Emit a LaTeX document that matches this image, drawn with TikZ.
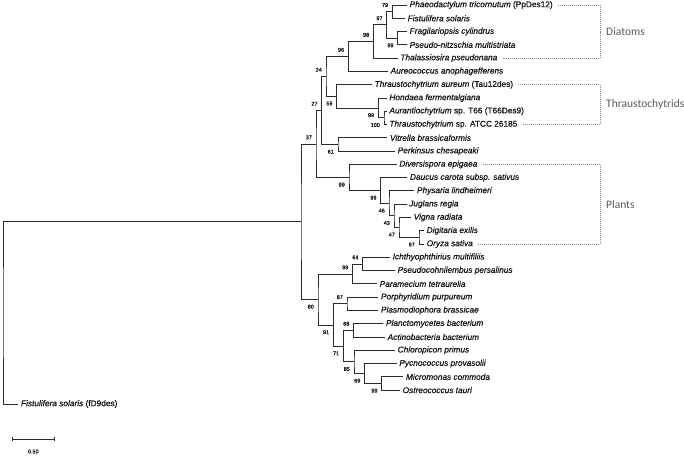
\documentclass[tikz,border=0pt]{standalone}
\usepackage{fontspec}
\setmainfont{Liberation Sans}
\newfontfamily\taxonfont{Liberation Sans}[FakeBold=0.35]
\newfontfamily\groupfont{Carlito}
\usetikzlibrary{arrows.meta,positioning}
\definecolor{Branch}{HTML}{2B2B2B}
\definecolor{Taxon}{HTML}{111111}
\definecolor{Group}{HTML}{5A5A5A}
\definecolor{Guide}{HTML}{8A8A8A}

\begin{document}
\begin{tikzpicture}[x=1pt,y=-1pt,
  branch/.style={draw=Branch,line width=1pt},
  taxon/.style={anchor=west,inner sep=1pt,xshift=1.5pt,text=Taxon,font=\taxonfont\fontsize{8.3}{9}\selectfont\itshape},
  bsup/.style={anchor=south east,inner sep=0pt,xshift=-4pt,yshift=4.5pt,text=Taxon,font=\taxonfont\fontsize{5.5}{6}\selectfont},
  bsdn/.style={anchor=north east,inner sep=0pt,xshift=-4pt,yshift=-5pt,text=Taxon,font=\taxonfont\fontsize{5.5}{6}\selectfont},
  guide/.style={draw=Guide,line width=0.7pt,dash pattern=on 0.8pt off 1.2pt},
  group/.style={right=6pt,inner sep=0pt,text=Group,font=\groupfont\fontsize{11.5}{13}\selectfont}]
\useasboundingbox (0,0) rectangle (684,456);
% leaf tips
\coordinate (l0) at (407,5.0);
\coordinate (l1) at (405,18.3);
\coordinate (l2) at (407,31.6);
\coordinate (l3) at (407,44.8);
\coordinate (l4) at (397.7,58.1);
\coordinate (l5) at (388,71.4);
\coordinate (l6) at (372,84.7);
\coordinate (l7) at (386.7,98.0);
\coordinate (l8) at (386.7,111.2);
\coordinate (l9) at (386.7,124.5);
\coordinate (l10) at (387.3,137.8);
\coordinate (l11) at (395,151.1);
\coordinate (l12) at (396.7,164.4);
\coordinate (l13) at (407.3,177.6);
\coordinate (l14) at (414.3,190.9);
\coordinate (l15) at (406.5,204.2);
\coordinate (l16) at (411,217.5);
\coordinate (l17) at (424,230.8);
\coordinate (l18) at (424,244.0);
\coordinate (l19) at (390,257.3);
\coordinate (l20) at (395,270.6);
\coordinate (l21) at (377,283.9);
\coordinate (l22) at (378.3,297.2);
\coordinate (l23) at (378.3,310.4);
\coordinate (l24) at (383.3,323.7);
\coordinate (l25) at (385,337.0);
\coordinate (l26) at (395,350.3);
\coordinate (l27) at (396.7,363.6);
\coordinate (l28) at (403.3,376.8);
\coordinate (l29) at (400,390.1);
\coordinate (lfd) at (18.3,404);
% inner nodes
\coordinate (n79) at (392.3,11.7);
\coordinate (n99a) at (397.7,38.2);
\coordinate (n97) at (386.7,24.9);
\coordinate (n98) at (373.3,41.5);
\coordinate (n96) at (348.3,56.5);
\coordinate (n100) at (384,117.9);
\coordinate (n99b) at (378.3,108);
\coordinate (n59) at (336.7,96.3);
\coordinate (n24) at (326,76.4);
\coordinate (n61) at (338,144.5);
\coordinate (n27) at (321.7,110.4);
\coordinate (n97p) at (419,237.4);
\coordinate (n47) at (399,227.5);
\coordinate (n43) at (394,215.8);
\coordinate (n46) at (389,203.4);
\coordinate (n99d) at (380.7,190.5);
\coordinate (n99c) at (349,177.5);
\coordinate (n37) at (316,144);
\coordinate (n64) at (362.7,264);
\coordinate (n99e) at (352.5,274);
\coordinate (n87) at (347,303.8);
\coordinate (n68) at (353.5,330.4);
\coordinate (n99f) at (381.7,383.5);
\coordinate (n69) at (364.5,373.5);
\coordinate (n85) at (354,361.9);
\coordinate (n71) at (343.3,346.2);
\coordinate (n91) at (333.3,325);
\coordinate (n80) at (318,299.5);
\coordinate (nA) at (301,221.8);
\coordinate (root) at (3,312.9);
% branches
\draw[branch] (l0) -| (n79) |- (l1);
\draw[branch] (l2) -| (n99a) |- (l3);
\draw[branch] (n79) -| (n97) |- (n99a);
\draw[branch] (n97) -| (n98) |- (l4);
\draw[branch] (n98) -| (n96) |- (l5);
\draw[branch] (l8) -| (n100) |- (l9);
\draw[branch] (l7) -| (n99b) |- (n100);
\draw[branch] (l6) -| (n59) |- (n99b);
\draw[branch] (n96) -| (n24) |- (n59);
\draw[branch] (l10) -| (n61) |- (l11);
\draw[branch] (n24) -| (n27) |- (n61);
\draw[branch] (l17) -| (n97p) |- (l18);
\draw[branch] (l16) -| (n47) |- (n97p);
\draw[branch] (l15) -| (n43) |- (n47);
\draw[branch] (l14) -| (n46) |- (n43);
\draw[branch] (l13) -| (n99d) |- (n46);
\draw[branch] (l12) -| (n99c) |- (n99d);
\draw[branch] (n27) -| (n37) |- (n99c);
\draw[branch] (l19) -| (n64) |- (l20);
\draw[branch] (n64) -| (n99e) |- (l21);
\draw[branch] (l22) -| (n87) |- (l23);
\draw[branch] (l24) -| (n68) |- (l25);
\draw[branch] (l28) -| (n99f) |- (l29);
\draw[branch] (l27) -| (n69) |- (n99f);
\draw[branch] (l26) -| (n85) |- (n69);
\draw[branch] (n68) -| (n71) |- (n85);
\draw[branch] (n87) -| (n91) |- (n71);
\draw[branch] (n99e) -| (n80) |- (n91);
\draw[branch] (n37) -| (nA) |- (n80);
\draw[branch] (nA) -| (root) |- (lfd);
% bootstrap values
\node[bsup] (b79) at (n79) {79};
\node[bsdn] (b99a) at (n99a) {99};
\node[bsup] (b97) at (n97) {97};
\node[bsup] (b98) at (n98) {98};
\node[bsup] (b96) at (n96) {96};
\node[bsdn] (b100) at (n100) {100};
\node[bsdn] (b99b) at (n99b) {99};
\node[bsdn] (b59) at (n59) {59};
\node[bsup] (b24) at (n24) {24};
\node[bsdn] (b61) at (n61) {61};
\node[bsup] (b27) at (n27) {27};
\node[bsdn] (b97p) at (n97p) {97};
\node[bsdn] (b47) at (n47) {47};
\node[bsdn] (b43) at (n43) {43};
\node[bsdn] (b46) at (n46) {46};
\node[bsdn] (b99d) at (n99d) {99};
\node[bsdn] (b99c) at (n99c) {99};
\node[bsup] (b37) at (n37) {37};
\node[bsup] (b64) at (n64) {64};
\node[bsup] (b99e) at (n99e) {99};
\node[bsup] (b87) at (n87) {87};
\node[bsup] (b68) at (n68) {68};
\node[bsdn] (b99f) at (n99f) {99};
\node[bsdn] (b69) at (n69) {69};
\node[bsdn] (b85) at (n85) {85};
\node[bsdn] (b71) at (n71) {71};
\node[bsdn] (b91) at (n91) {91};
\node[bsdn] (b80) at (n80) {80};
% taxa
\node[taxon] (t0) at (l0) {Phaeodactylum tricornutum \textup{(PpDes12)}};
\node[taxon] (t1) at (l1) {Fistulifera solaris};
\node[taxon] (t2) at (l2) {Fragilariopsis cylindrus};
\node[taxon] (t3) at (l3) {Pseudo-nitzschia multistriata};
\node[taxon] (t4) at (l4) {Thalassiosira pseudonana};
\node[taxon] (t5) at (l5) {Aureococcus anophagefferens};
\node[taxon] (t6) at (l6) {Thraustochytrium aureum \textup{(Tau12des)}};
\node[taxon] (t7) at (l7) {Hondaea fermentalgiana};
\node[taxon] (t8) at (l8) {Aurantiochytrium \textup{sp. T66 (T66Des9)}};
\node[taxon] (t9) at (l9) {Thraustochytrium \textup{sp. ATCC 26185}};
\node[taxon] (t10) at (l10) {Vitrella brassicaformis};
\node[taxon] (t11) at (l11) {Perkinsus chesapeaki};
\node[taxon] (t12) at (l12) {Diversispora epigaea};
\node[taxon] (t13) at (l13) {Daucus carota subsp. sativus};
\node[taxon] (t14) at (l14) {Physaria lindheimeri};
\node[taxon] (t15) at (l15) {Juglans regia};
\node[taxon] (t16) at (l16) {Vigna radiata};
\node[taxon] (t17) at (l17) {Digitaria exilis};
\node[taxon] (t18) at (l18) {Oryza sativa};
\node[taxon] (t19) at (l19) {Ichthyophthirius multifiliis};
\node[taxon] (t20) at (l20) {Pseudocohnilembus persalinus};
\node[taxon] (t21) at (l21) {Paramecium tetraurelia};
\node[taxon] (t22) at (l22) {Porphyridium purpureum};
\node[taxon] (t23) at (l23) {Plasmodiophora brassicae};
\node[taxon] (t24) at (l24) {Planctomycetes bacterium};
\node[taxon] (t25) at (l25) {Actinobacteria bacterium};
\node[taxon] (t26) at (l26) {Chloropicon primus};
\node[taxon] (t27) at (l27) {Pycnococcus provasolii};
\node[taxon] (t28) at (l28) {Micromonas commoda};
\node[taxon] (t29) at (l29) {Ostreococcus tauri};
\node[taxon] (tfd) at (lfd) {Fistulifera solaris \textup{(fD9des)}};
% groups
\coordinate (gdia) at (600,31.5);
\coordinate (gthr) at (600,104.6);
\coordinate (gpla) at (600,204.2);
\draw[guide] ([xshift=4pt]t0.east) -| (gdia) |- ([xshift=4pt]t4.east);
\draw[guide] ([xshift=4pt]t6.east) -| (gthr) |- ([xshift=4pt]t9.east);
\draw[guide] ([xshift=4pt]t12.east) -| (gpla) |- ([xshift=4pt]t18.east);
\node[group] (dia) at (gdia) {Diatoms};
\node[group] (thr) at (gthr) {Thraustochytrids};
\node[group] (pla) at (gpla) {Plants};
% scale
\coordinate (sbl) at (11.7,439);
\coordinate (sbr) at (55,439);
\draw[branch,{Bar[width=4pt]}-{Bar[width=4pt]}] (sbl) -- (sbr);
\node[text=Taxon,font=\taxonfont\fontsize{5.5}{6}\selectfont] (sbt) at (33.3,451.5) {0.50};
\end{tikzpicture}
\end{document}
